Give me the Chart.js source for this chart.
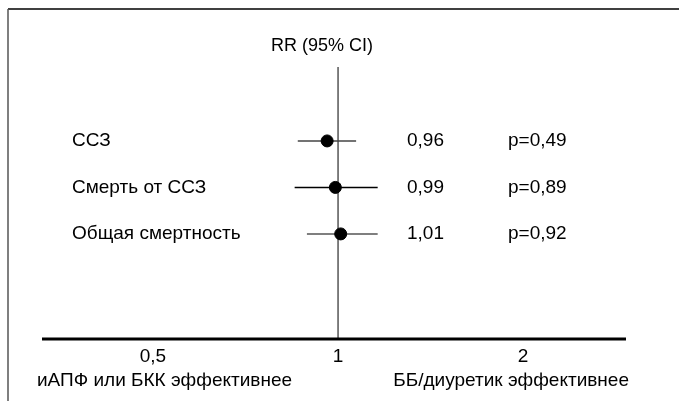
<!DOCTYPE html>
<html lang="ru">
<head>
  <meta charset="UTF-8">
  <title>RR (95% CI)</title>
  <script src="https://cdn.jsdelivr.net/npm/chart.js"></script>
  <style>
    body {
      margin: 0;
      background: #fff;
    }
    #wrap {
      position: relative;
      width: 679px;
      height: 401px;
    }
  </style>
</head>
<body>
  <div id="wrap"><canvas id="forest"></canvas></div>

  <script>
    // data
    const outcomes = ['ССЗ', 'Смерть от ССЗ', 'Общая смертность'];
    const rr = [0.96, 0.99, 1.01];
    const ciLow = [0.86, 0.85, 0.89];
    const ciHigh = [1.07, 1.16, 1.16];
    const rrText = ['0,96', '0,99', '1,01'];
    const pValues = ['p=0,49', 'p=0,89', 'p=0,92'];
    const xTicks = [0.5, 1, 2];
    const xTickLabels = ['0,5', '1', '2'];
    const leftNote = 'иАПФ или БКК эффективнее';
    const rightNote = 'ББ/диуретик эффективнее';
    const title = 'RR (95% CI)';

    const FONT = '"Liberation Sans", Arial, sans-serif';
    const Y_MIN = -1.26, Y_MAX = 4.59;

    // top row gets the highest y
    const rowY = i => outcomes.length - i;

    const ciColors = ['#444', '#000', '#555'];

    const datasets = [];
    datasets.push({
      label: 'RR',
      type: 'scatter',
      data: rr.map((v, i) => ({ x: v, y: rowY(i) })),
      pointRadius: 6,
      pointHoverRadius: 6,
      pointBackgroundColor: '#000',
      pointBorderColor: '#000',
      order: 0
    });
    outcomes.forEach((name, i) => {
      datasets.push({
        label: name,
        type: 'line',
        data: [{ x: ciLow[i], y: rowY(i) }, { x: ciHigh[i], y: rowY(i) }],
        borderColor: ciColors[i],
        borderWidth: 1.5,
        pointRadius: 0,
        order: 1
      });
    });
    // line of no effect
    datasets.push({
      label: 'ref',
      type: 'line',
      data: [{ x: 1, y: Y_MIN }, { x: 1, y: Y_MAX }],
      borderColor: '#000',
      borderWidth: 1,
      pointRadius: 0,
      order: 2
    });

    const decor = {
      id: 'decor',
      afterDraw(chart) {
        const ctx = chart.ctx;
        const area = chart.chartArea;
        const xs = chart.scales.x;
        const ys = chart.scales.y;
        ctx.save();

        // frame (top and left only)
        ctx.strokeStyle = '#000';
        ctx.lineWidth = 1.5;
        ctx.beginPath();
        ctx.moveTo(679, 9);
        ctx.lineTo(8, 9);
        ctx.stroke();
        ctx.strokeStyle = '#555';
        ctx.beginPath();
        ctx.moveTo(8, 9);
        ctx.lineTo(8, 401);
        ctx.stroke();

        // x axis
        ctx.strokeStyle = '#000';
        ctx.lineWidth = 3;
        ctx.beginPath();
        ctx.moveTo(area.left, area.bottom);
        ctx.lineTo(area.right, area.bottom);
        ctx.stroke();

        ctx.fillStyle = '#000';
        ctx.font = '19px ' + FONT;
        ctx.textBaseline = 'middle';
        ctx.textAlign = 'center';
        xTicks.forEach((t, i) => {
          ctx.fillText(xTickLabels[i], xs.getPixelForValue(t), area.bottom + 18);
        });

        ctx.font = '18px ' + FONT;
        ctx.fillText(title, 322, 46);

        ctx.font = '19px ' + FONT;
        ctx.textAlign = 'left';
        outcomes.forEach((name, i) => {
          const y = ys.getPixelForValue(rowY(i));
          ctx.fillText(name, 72, y);
          ctx.fillText(rrText[i], 407, y);
          ctx.fillText(pValues[i], 508, y);
        });

        ctx.fillText(leftNote, 37, 381);
        ctx.textAlign = 'right';
        ctx.fillText(rightNote, 629, 381);
        ctx.restore();
      }
    };

    new Chart(document.getElementById('forest'), {
      type: 'scatter',
      data: { datasets },
      options: {
        responsive: true,
        maintainAspectRatio: false,
        animation: false,
        layout: { padding: { left: 42, right: 53, top: 67, bottom: 62 } },
        plugins: {
          legend: { display: false },
          tooltip: { enabled: false }
        },
        scales: {
          x: { type: 'logarithmic', bounds: 'data', min: 0.33, max: 2.94, display: false },
          y: { type: 'linear', min: Y_MIN, max: Y_MAX, display: false }
        }
      },
      plugins: [decor]
    });
  </script>
</body>
</html>
